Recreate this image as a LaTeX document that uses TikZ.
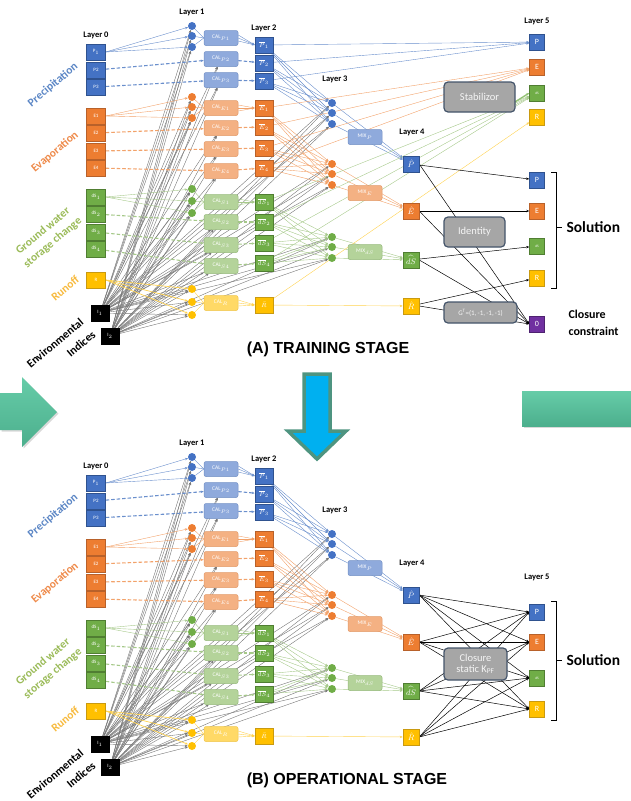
\documentclass[tikz,border=0pt]{standalone}
\usepackage{fontspec}
\setmainfont{Carlito}
\newfontfamily\titlefont{Liberation Sans}
\usetikzlibrary{arrows.meta,backgrounds,shadows,calc}

% group colours: box fill, box border, light fill, line, label text
\definecolor{cP}{HTML}{4472C4}\definecolor{cPd}{HTML}{2F528F}\definecolor{cPl}{HTML}{8FAADC}\definecolor{cPline}{HTML}{6A8FCC}\definecolor{cPtext}{HTML}{5B86C5}
\definecolor{cE}{HTML}{ED7D31}\definecolor{cEd}{HTML}{B8612A}\definecolor{cEl}{HTML}{F4B183}\definecolor{cEline}{HTML}{F2A26A}\definecolor{cEtext}{HTML}{EE8A4A}
\definecolor{cS}{HTML}{70AD47}\definecolor{cSd}{HTML}{507E32}\definecolor{cSl}{HTML}{B4D39A}\definecolor{cSline}{HTML}{A6C98A}\definecolor{cStext}{HTML}{9BBB59}
\definecolor{cR}{HTML}{FFC000}\definecolor{cRd}{HTML}{C99A10}\definecolor{cRl}{HTML}{FFD966}\definecolor{cRline}{HTML}{FFD24F}\definecolor{cRtext}{HTML}{F7BA3E}
\definecolor{cO}{HTML}{7030A0}
\definecolor{idxline}{HTML}{767676}
\definecolor{gbox}{HTML}{A6A6A6}\definecolor{gboxd}{HTML}{44546A}
\definecolor{tealA}{HTML}{66CCA8}\definecolor{tealB}{HTML}{4CAF8D}
\definecolor{tealedge}{HTML}{4E9480}\definecolor{cyanfill}{HTML}{00B0F0}

\tikzset{
  endtip/.style={-{Stealth[length=3pt,width=2.4pt]}},
  sqbox/.style={rectangle, draw, line width=0.5pt, minimum width=18pt, minimum height=16pt,
    inner sep=0pt, text=white, font=\fontsize{5}{5}\selectfont},
  outbox/.style={sqbox, minimum width=15pt, font=\fontsize{8}{8}\selectfont},
  circ/.style={circle, inner sep=0pt, minimum size=8pt},
  calbox/.style={rectangle, rounded corners=2pt, draw, line width=0.5pt, minimum width=34pt,
    minimum height=15pt, inner sep=0pt, text=white, font=\fontsize{5.5}{5.5}\selectfont},
  laylabel/.style={font=\bfseries\fontsize{8.5}{9}\selectfont},
  cline/.style={line width=0.4pt, endtip},
  dline/.style={line width=1.1pt, dash pattern=on 3.5pt off 2pt, endtip},
  greyline/.style={idxline, line width=0.4pt, endtip},
  blackline/.style={black, line width=0.5pt, endtip},
  bigbox/.style={rectangle, rounded corners=4pt, fill=gbox, draw=gboxd, line width=1.2pt,
    text=white!92!gray, inner sep=0pt, font=\fontsize{10.5}{12.5}\selectfont, align=center},
  sidelabel/.style={font=\bfseries\fontsize{11.5}{15}\selectfont, rotate=40, align=center},
  stagetitle/.style={font=\titlefont\bfseries\fontsize{16}{18}\selectfont},
  sollabel/.style={anchor=west, font=\bfseries\fontsize{15.5}{17}\selectfont},
}

\begin{document}
\begin{tikzpicture}[x=1pt,y=-1pt]
\useasboundingbox (0,0) rectangle (630,801);

% ---- transition arrows between the two stages ----
\path[shade, top color=tealA, bottom color=tealB,
      drop shadow={opacity=0.3, shadow xshift=1.5pt, shadow yshift=-1.5pt}]
  (0,393) -- (22,393) -- (22,377) -- (57,412) -- (22,447) -- (22,430) -- (0,430) -- cycle;
\path[shade, top color=tealA, bottom color=tealB,
      drop shadow={opacity=0.3, shadow xshift=1.5pt, shadow yshift=-1.5pt}]
  (522,391) rectangle (640,426);
\draw[fill=cyanfill, draw=tealedge, line width=3.5pt, line join=miter]
  (304,374) -- (330,374) -- (330,431) -- (346,431) -- (317,459) -- (288,431) -- (304,431) -- cycle;

% ---- layers 0 to 4, shared by both stages ----
\foreach \s/\dy in {A/0,B/431}{
\begin{scope}[yshift=-\dy pt]
  \node[laylabel] (\s lab0) at (96,35) {Layer 0};
  \node[laylabel] (\s lab1) at (192,12) {Layer 1};
  \node[laylabel] (\s lab2) at (264,28) {Layer 2};
  \node[laylabel] (\s lab3) at (335,79) {Layer 3};
  \node[laylabel] (\s lab4) at (412,132) {Layer 4};

  \node[sidelabel,text=cPtext] (\s tP) at (53,85) {Precipitation};
  \node[sidelabel,text=cEtext] (\s tE) at (55,152) {Evaporation};
  \node[sidelabel,text=cStext] (\s tS) at (48,237) {Ground water\\storage change};
  \node[sidelabel,text=cRtext] (\s tR) at (65,288) {Runoff};
  \node[sidelabel,text=black] (\s tIa) at (55,343) {Environmental};
  \node[sidelabel,text=black] (\s tIb) at (81,344) {Indices};

  % layer 0: inputs
  \foreach \i/\y/\tx in {1/52/{P$_1$},2/70/P2,3/87/P3}
    \node[sqbox,minimum width=19pt,fill=cP,draw=cPd] (\s0P\i) at (96,\y) {\tx};
  \foreach \i/\y in {1/116,2/133,3/151,4/168}
    \node[sqbox,minimum width=19pt,fill=cE,draw=cEd] (\s0E\i) at (96,\y) {E\i};
  \foreach \i/\y in {1/197,2/214,3/232,4/249}
    \node[sqbox,minimum width=19pt,fill=cS,draw=cSd] (\s0S\i) at (96,\y) {dS$_\i$};
  \node[sqbox,minimum width=19pt,fill=cR,draw=cRd] (\s0R1) at (96,280) {R};
  \node[sqbox,fill=black] (\s0I1) at (100,313) {I$_1$};
  \node[sqbox,fill=black] (\s0I2) at (110,336) {I$_2$};

  % layer 1: neurons
  \foreach \g/\c/\ya/\yb/\yc in {P/cP/26/36/47,E/cE/97/107/118,S/cS/189/201/213,R/cR/289/302/315}{
    \node[circ,fill=\c] (\s1\g1) at (192,\ya) {};
    \node[circ,fill=\c] (\s1\g2) at (192,\yb) {};
    \node[circ,fill=\c] (\s1\g3) at (192,\yc) {};
  }

  % calibration boxes
  \foreach \i/\y in {1/38,2/59,3/80}
    \node[calbox,fill=cPl,draw=cPl!70!cPd] (\s CP\i) at (221,\y) {CAL$_{P\i}$};
  \foreach \i/\y in {1/108,2/128,3/149,4/171}
    \node[calbox,fill=cEl,draw=cEl!70!cEd] (\s CE\i) at (221,\y) {CAL$_{E\i}$};
  \foreach \i/\y in {1/202,2/222,3/245,4/266}
    \node[calbox,fill=cSl,draw=cSl!70!cSd] (\s CS\i) at (221,\y) {CAL$_{S\i}$};
  \node[calbox,fill=cRl,draw=cRl!70!cRd] (\s CR1) at (221,303) {CAL$_R$};

  % layer 2: calibrated estimates
  \foreach \i/\y in {1/45,2/63,3/81}
    \node[sqbox,fill=cP,draw=cPd,font=\fontsize{6}{6}\selectfont] (\s2P\i) at (264,\y) {$\overline{P}_{\i}$};
  \foreach \i/\y in {1/108,2/127,3/148,4/168}
    \node[sqbox,fill=cE,draw=cEd,font=\fontsize{6}{6}\selectfont] (\s2E\i) at (264,\y) {$\overline{E}_{\i}$};
  \foreach \i/\y in {1/202,2/222,3/243,4/263}
    \node[sqbox,fill=cS,draw=cSd,font=\fontsize{6}{6}\selectfont] (\s2S\i) at (264,\y) {$\overline{dS}_{\i}$};
  \node[sqbox,fill=cR,draw=cRd,font=\fontsize{6}{6}\selectfont] (\s2R1) at (264,305) {$\bar{R}$};

  % layer 3: neurons and mixing boxes
  \foreach \g/\c/\ya/\yb/\yc in {P/cP/103/113/124,E/cE/164/174/185,S/cS/237/247/258}{
    \node[circ,fill=\c] (\s3\g1) at (332,\ya) {};
    \node[circ,fill=\c] (\s3\g2) at (332,\yb) {};
    \node[circ,fill=\c] (\s3\g3) at (332,\yc) {};
  }
  \node[calbox,fill=cPl,draw=cPl!70!cPd] (\s MP) at (365,137) {MIX$_P$};
  \node[calbox,fill=cEl,draw=cEl!70!cEd] (\s ME) at (365,193) {MIX$_E$};
  \node[calbox,fill=cSl,draw=cSl!70!cSd] (\s MS) at (365,252) {MIX$_{dS}$};

  % layer 4: merged estimates
  \node[sqbox,minimum width=16pt,fill=cP,draw=cPd,font=\fontsize{8}{8}\selectfont] (\s4P) at (411,164) {$\hat{P}$};
  \node[sqbox,minimum width=16pt,fill=cE,draw=cEd,font=\fontsize{8}{8}\selectfont] (\s4E) at (411,211) {$\hat{E}$};
  \node[sqbox,minimum width=16pt,fill=cS,draw=cSd,font=\fontsize{8}{8}\selectfont] (\s4S) at (411,260) {$\widehat{dS}$};
  \node[sqbox,minimum width=16pt,fill=cR,draw=cRd,font=\fontsize{8}{8}\selectfont] (\s4R) at (411,306) {$\hat{R}$};

  \begin{pgfonlayer}{background}
    % environmental indices feed every neuron and every second-stage calibration
    \foreach \src in {I1,I2}
      \foreach \tx in {1P1,1P2,1P3,1E1,1E2,1E3,1S1,1S2,1S3,1R1,1R2,1R3,CP2,CP3,CE2,CE3,CE4,CS2,CS3,CS4,3P1,3P2,3P3,3E1,3E2,3E3,3S1,3S2,3S3}
        \draw[greyline] (\s0\src) -- (\s\tx);

    % precipitation
    \foreach \i in {1,2,3} \draw[cline,cPline] (\s0P1.east) -- (\s1P\i);
    \foreach \i in {2,3} {\draw[dline,cPline] (\s0P\i) -- (\s CP\i); \draw[dline,cPline] (\s CP\i) -- (\s2P\i);}
    \foreach \i in {1,2,3} \draw[cPline,line width=0.4pt] (\s1P\i) -- (\s CP1.west);
    \foreach \off in {-3,0,3} \draw[cline,cPline] ([yshift=\off pt]\s CP1.east) -- (\s2P1.west);
    \foreach \i in {1,2,3} \foreach \j in {1,2,3} \draw[cline,cPline] (\s2P\i) -- (\s3P\j);
    \foreach \j in {1,2,3} \draw[cline,cPline] (\s3P\j) -- (\s4P);

    % evaporation
    \foreach \i in {1,2,3} \draw[cline,cEline] (\s0E1.east) -- (\s1E\i);
    \foreach \i in {2,3,4} {\draw[dline,cEline] (\s0E\i) -- (\s CE\i); \draw[dline,cEline] (\s CE\i) -- (\s2E\i);}
    \foreach \i in {1,2,3} \draw[cEline,line width=0.4pt] (\s1E\i) -- (\s CE1.west);
    \foreach \off in {-3,0,3} \draw[cline,cEline] ([yshift=\off pt]\s CE1.east) -- (\s2E1.west);
    \foreach \i in {1,2,3,4} \foreach \j in {1,2,3} \draw[cline,cEline] (\s2E\i) -- (\s3E\j);
    \foreach \j in {1,2,3} \draw[cline,cEline] (\s3E\j) -- (\s4E);

    % groundwater storage change
    \foreach \i in {1,2,3} \draw[cline,cSline] (\s0S1.east) -- (\s1S\i);
    \foreach \i in {2,3,4} {\draw[dline,cSline] (\s0S\i) -- (\s CS\i); \draw[dline,cSline] (\s CS\i) -- (\s2S\i);}
    \foreach \i in {1,2,3} \draw[cSline,line width=0.4pt] (\s1S\i) -- (\s CS1.west);
    \foreach \off in {-3,0,3} \draw[cline,cSline] ([yshift=\off pt]\s CS1.east) -- (\s2S1.west);
    \foreach \i in {1,2,3,4} \foreach \j in {1,2,3} \draw[cline,cSline] (\s2S\i) -- (\s3S\j);
    \foreach \j in {1,2,3} \draw[cline,cSline] (\s3S\j) -- (\s4S);

    % runoff
    \foreach \i in {1,2,3} \draw[cline,cRline,line width=0.7pt] (\s0R1.east) -- (\s1R\i);
    \foreach \i in {1,2,3} \draw[cRline,line width=0.4pt] (\s1R\i) -- (\s CR1.west);
    \foreach \off in {-3,0,3} \draw[cline,cRline] ([yshift=\off pt]\s CR1.east) -- (\s2R1.west);
    \draw[cline,cRline] (\s2R1) -- (\s4R);
  \end{pgfonlayer}
\end{scope}
}

% ---- (A) training stage: layer 5 ----
\node[laylabel] (Alab5) at (537,21) {Layer 5};
\node[outbox,fill=cP,draw=cPd] (ATP) at (537,42) {P};
\node[outbox,fill=cE,draw=cEd] (ATE) at (537,67) {E};
\node[outbox,fill=cS,draw=cSd,font=\fontsize{3.5}{4}\selectfont] (ATS) at (537,93) {dS};
\node[outbox,fill=cR,draw=cRd] (ATR) at (537,117) {R};
\node[outbox,fill=cP,draw=cPd] (ASP) at (537,180) {P};
\node[outbox,fill=cE,draw=cEd] (ASE) at (537,211) {E};
\node[outbox,fill=cS,draw=cSd,font=\fontsize{3.5}{4}\selectfont] (ASS) at (537,246) {dS};
\node[outbox,fill=cR,draw=cRd] (ASR) at (537,278) {R};
\node[outbox,fill=cO,draw=cO!70!black] (AO) at (537,324) {0};

\node[bigbox,minimum width=71pt,minimum height=30pt] (Stab) at (479.5,97) {Stabilizor};
\node[bigbox,minimum width=61pt,minimum height=30pt] (Iden) at (474.5,232) {Identity};
\node[bigbox,minimum width=73pt,minimum height=21pt,font=\fontsize{7}{8}\selectfont] (Gmat) at (480.5,312.5) {G$^{\mathrm{T}}$=(1,\,-1,\,-1,\,-1)};

\begin{pgfonlayer}{background}
  \foreach \i in {1,2,3} \draw[cline,cPline] (A2P\i) -- (ATP);
  \foreach \i in {1,2,3,4} \draw[cline,cEline] (A2E\i) -- (ATE);
  \foreach \i in {1,2,3,4} \draw[cline,cSline] (A2S\i) -- (ATS);
  \draw[cline,cRline] (A2R1) -- (ATR);
  \draw[cS!75!white,line width=1.4pt,endtip] ($(Stab.south east)+(-8,-6)$) -- (ATS.west);
  \draw[blackline] (A4P) -- (ASP);
  \draw[blackline] (A4E) -- (ASE);
  \draw[blackline] (A4S) -- (ASS);
  \draw[blackline] (A4R) -- (ASR);
  \foreach \g in {P,E,S,R} \draw[blackline] (A4\g.east) -- (AO.west);
\end{pgfonlayer}

\draw[line width=1pt] (551,172) -- (556,172) -- (556,288) -- (551,288);
\draw[line width=1pt] (556,227) -- (562,227);
\node[sollabel] (Asol) at (563,227) {Solution};
\node[anchor=west,align=left,font=\bfseries\fontsize{12}{17}\selectfont] (Aclo) at (565,323) {Closure\\constraint};
\node[stagetitle] (Atitle) at (328,349) {(A) TRAINING STAGE};

% ---- (B) operational stage: layer 5 ----
\node[laylabel] (Blab5) at (537,577) {Layer 5};
\node[outbox,fill=cP,draw=cPd] (BOP) at (537,612) {P};
\node[outbox,fill=cE,draw=cEd] (BOE) at (537,642) {E};
\node[outbox,fill=cS,draw=cSd,font=\fontsize{3.5}{4}\selectfont] (BOS) at (537,678) {dS};
\node[outbox,fill=cR,draw=cRd] (BOR) at (537,709) {R};
\node[bigbox,minimum width=63pt,minimum height=32pt] (Clos) at (475.5,664) {Closure\\[-2pt]static K$_{\mathrm{PF}}$};

\begin{pgfonlayer}{background}
  \foreach \a in {P,E,S,R}
    \foreach \b in {P,E,S,R}
      \draw[blackline] (B4\a.east) -- (BO\b.west);
\end{pgfonlayer}

\draw[line width=1pt] (551,601) -- (556,601) -- (556,720) -- (551,720);
\draw[line width=1pt] (556,660) -- (562,660);
\node[sollabel] (Bsol) at (563,660) {Solution};
\node[stagetitle] (Btitle) at (347,780) {(B) OPERATIONAL STAGE};

\end{tikzpicture}
\end{document}
